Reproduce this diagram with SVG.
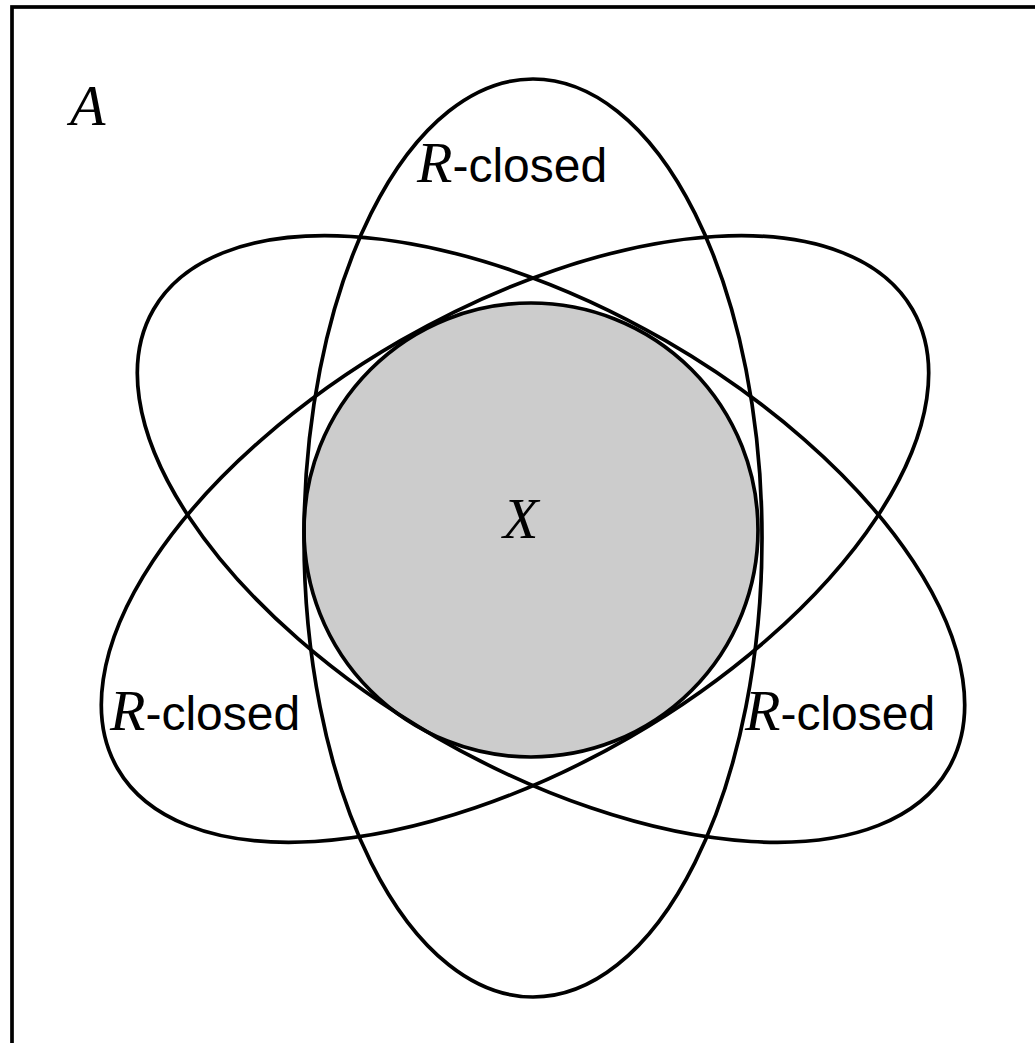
<svg xmlns="http://www.w3.org/2000/svg" width="1035" height="1043" viewBox="0 0 1035 1043">
<style>
.ln{fill:none;stroke:#000;stroke-width:3.7}
.math{font-family:"Liberation Serif","DejaVu Serif",serif;font-style:italic;font-size:58px;fill:#000}
.sans{font-family:"Liberation Sans",Arial,sans-serif;font-size:48px;fill:#000}
</style>
<rect width="1035" height="1043" fill="#fff"/>
<rect id="frame" class="ln" x="12" y="7" width="1100" height="1100"/>
<g id="X">
<circle cx="531" cy="530" r="227" fill="#cccccc"/>
</g>
<g id="ellipses">
<ellipse id="e-vertical" class="ln" cx="533" cy="538" rx="229" ry="459"/>
<ellipse id="e-left" class="ln" cx="551" cy="539" rx="459" ry="229" transform="rotate(30 551 539)"/>
<ellipse id="e-right" class="ln" cx="515" cy="539" rx="459" ry="229" transform="rotate(-30 515 539)"/>
</g>
<circle class="ln" cx="531" cy="530" r="227"/>
<g id="labels">
<text class="math" x="70" y="125">A</text>
<text class="math" x="503" y="538">X</text>
<text x="417" y="182"><tspan class="math">R</tspan><tspan class="sans">-closed</tspan></text>
<text x="110" y="730"><tspan class="math">R</tspan><tspan class="sans">-closed</tspan></text>
<text x="745" y="730"><tspan class="math">R</tspan><tspan class="sans">-closed</tspan></text>
</g>
</svg>
